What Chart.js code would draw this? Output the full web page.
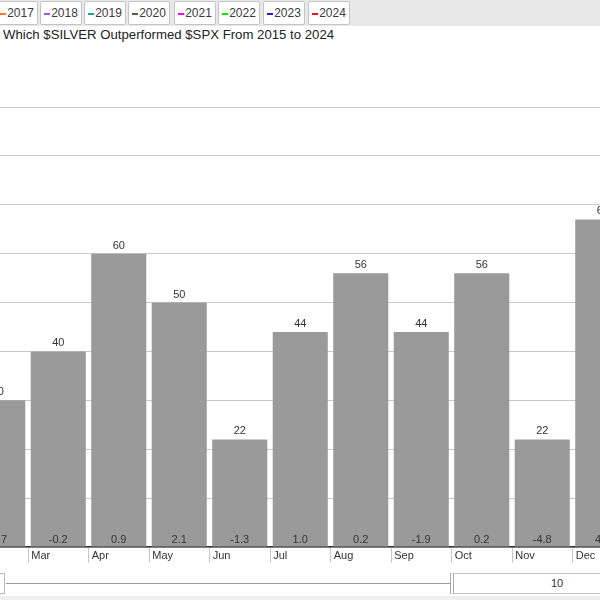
<!DOCTYPE html>
<html>
<head>
<meta charset="utf-8">
<script src="https://cdn.jsdelivr.net/npm/chart.js@4"></script>
<style>
  body { margin: 0; width: 600px; height: 600px; overflow: hidden; position: relative; background: #fff; font-family: "Liberation Sans", Arial, sans-serif; }
  #topbar { position: absolute; left: 0; top: 0; width: 600px; height: 26px; background: #e8e8e8; }
  .leg { position: absolute; top: 1px; height: 22px; width: 40px; background: #fff; border: 1px solid #c4c4c4; border-radius: 2px; font-size: 12px; color: #3a3a3a; line-height: 22px; text-align: center; white-space: nowrap; }
  .leg i { display: inline-block; width: 6px; height: 2px; vertical-align: middle; margin-right: 1px; }
  #title { position: absolute; left: 3px; top: 27px; font-size: 13.2px; color: #222; }
  #wrap { position: absolute; left: -93px; top: 45px; width: 726px; height: 525px; }
  #navline { position: absolute; left: 6px; top: 583px; width: 444px; height: 1px; background: #9a9a9a; }
  #navL { position: absolute; left: -10px; top: 573px; width: 13px; height: 19px; border: 1px solid #bbb; background: #fff; }
  #navR { position: absolute; left: 450px; top: 573px; width: 206px; height: 19px; border: 1px solid #c4c4c4; border-left: 4px double #aaa; background: #fff; font-size: 11px; color: #333; text-align: center; line-height: 19px; }
  #bottom { position: absolute; left: 0; top: 596px; width: 600px; height: 4px; background: #efefef; }
</style>
</head>
<body>
<div id="topbar"></div>
<div id="legend"></div>
<div id="title">Which $SILVER Outperformed $SPX From 2015 to 2024</div>
<div id="wrap"><canvas id="chart" width="726" height="525"></canvas></div>
<div id="navline"></div>
<div id="navL"></div>
<div id="navR">10</div>
<div id="bottom"></div>

<script>
// data
const months = ["Jan", "Feb", "Mar", "Apr", "May", "Jun", "Jul", "Aug", "Sep", "Oct", "Nov", "Dec"];
const outperformPct = [null, 30, 40, 60, 50, 22, 44, 56, 44, 56, 22, 67]; // % of years
const avgReturn = [null, -0.7, -0.2, 0.9, 2.1, -1.3, 1.0, 0.2, -1.9, 0.2, -4.8, 4.1];
const yMax = 90;
const yStep = 10;

const legendYears = ["2017", "2018", "2019", "2020", "2021", "2022", "2023", "2024"];
const legendColors = ["#ff7a2a", "#a64dff", "#1f9e9e", "#555555", "#ff00ff", "#00ee00", "#3311ee", "#ff1111"];

// legend boxes (years)
const legendEl = document.getElementById("legend");
const legendLefts = [-4, 40, 84, 128, 174, 218, 263, 308];
legendYears.forEach((yr, i) => {
  const d = document.createElement("div");
  d.className = "leg";
  d.style.left = legendLefts[i] + "px";
  d.innerHTML = '<i style="background:' + legendColors[i] + '"></i>' + yr;
  legendEl.appendChild(d);
});

// labels above bars and inside the bar bottoms
const barLabels = {
  id: "barLabels",
  afterDatasetsDraw(chart) {
    const ctx = chart.ctx;
    const meta = chart.getDatasetMeta(0);
    const bottom = chart.chartArea.bottom;
    ctx.save();
    ctx.font = '11px "Liberation Sans", Arial, sans-serif';
    ctx.fillStyle = "#333";
    ctx.textAlign = "center";
    ctx.textBaseline = "middle";
    meta.data.forEach((bar, i) => {
      if (outperformPct[i] == null) return;
      ctx.fillText(String(outperformPct[i]), bar.x, bar.y - 8);
      ctx.fillText(avgReturn[i].toFixed(1), bar.x, bottom - 7);
    });
    ctx.restore();
  }
};

new Chart(document.getElementById("chart"), {
  type: "bar",
  data: {
    labels: months,
    datasets: [{
      data: outperformPct,
      backgroundColor: "#9a9a9a",
      borderWidth: 0,
      categoryPercentage: 1,
      barPercentage: 0.91
    }]
  },
  options: {
    responsive: false,
    animation: false,
    layout: { padding: { top: 62, left: 0, right: 0, bottom: 0 }, autoPadding: false },
    plugins: { legend: { display: false }, tooltip: { enabled: false } },
    scales: {
      x: {
        grid: { drawOnChartArea: false, drawTicks: true, tickLength: 16, color: "#c8c8c8", offset: true },
        border: { color: "#333", width: 1.5 },
        ticks: {
          align: "start",
          labelOffset: -27,
          padding: -14,
          color: "#333",
          font: { size: 11, family: '"Liberation Sans", Arial, sans-serif' }
        },
        afterFit(scale) { scale.height = 23; }
      },
      y: {
        min: 0,
        max: yMax,
        ticks: { display: false, stepSize: yStep },
        grid: { color: "#c8c8c8", drawTicks: false },
        border: { display: false },
        afterFit(scale) { scale.width = 0; }
      }
    }
  },
  plugins: [barLabels]
});
</script>
</body>
</html>
